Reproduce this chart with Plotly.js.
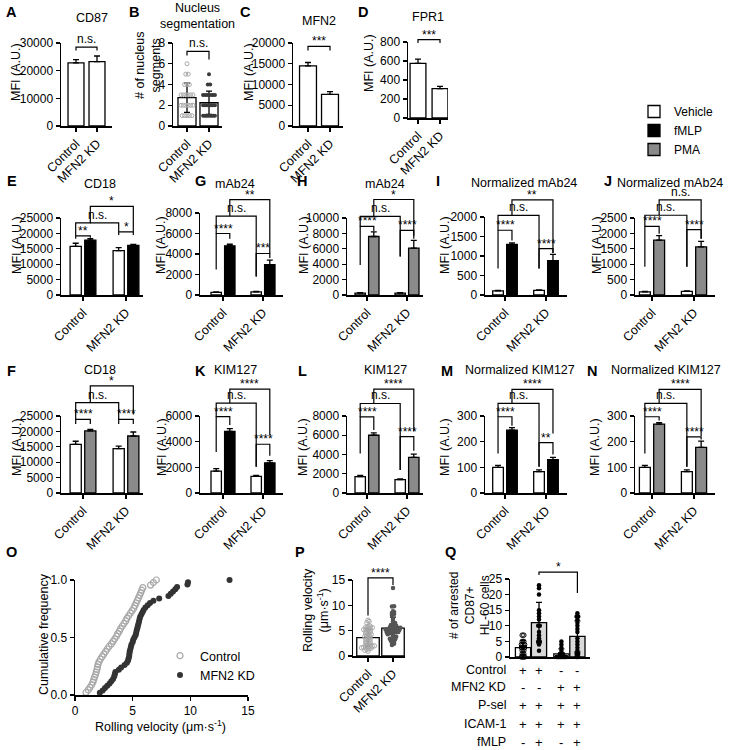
<!DOCTYPE html>
<html><head><meta charset="utf-8">
<script src="https://cdn.plot.ly/plotly-3.0.1.min.js"></script>
<style>body{margin:0;background:#fff}#chart{width:730px;height:750px}</style>
</head><body><div id="chart"></div>
<script>
const W = 730, H = 750;
const FONT = 'Liberation Sans, Arial, Helvetica, sans-serif';

// ================= DATA =================
const groupLabels = ['Control', 'MFN2 KD'];
const mfiTitle = 'MFI (A.U.)';

// A  CD87
const cd87Mean = [22800, 23300];
const cd87SD = [1200, 2000];
// C  MFN2
const mfn2Mean = [14500, 7600];
const mfn2SD = [800, 700];
// D  FPR1
const fpr1Mean = [575, 310];
const fpr1SD = [45, 22];
// B  nucleus segments per cell
const nucControl = [1,1,1,1,1,2,2,2,2,2,2,3,3,3,3,3,3,4,4,4,5,5,6];
const nucKD = [1,1,1,1,1,1,1,1,2,2,2,2,2,2,2,3,3,3,3,3,3,3,4,4,5];

// two-condition panels, values for [Control, MFN2 KD]
const cd18VehE = [15800, 14400], cd18VehESD = [1000, 1000];
const cd18Fmlp = [17800, 16100], cd18FmlpSD = [500, 350];
const mab24VehG = [250, 300], mab24VehGSD = [60, 50];
const mab24Fmlp = [4800, 2950], mab24FmlpSD = [150, 450];
const mab24VehH = [250, 250], mab24VehHSD = [50, 40];
const mab24Pma = [7600, 6100], mab24PmaSD = [600, 1000];
const nMab24VehI = [105, 120], nMab24VehISD = [15, 10];
const nMab24Fmlp = [1300, 880], nMab24FmlpSD = [35, 160];
const nMab24VehJ = [100, 120], nMab24VehJSD = [15, 12];
const nMab24Pma = [1780, 1560], nMab24PmaSD = [150, 180];
const cd18VehF = [15800, 14400], cd18VehFSD = [1000, 800];
const cd18Pma = [20200, 18500], cd18PmaSD = [450, 1300];
const kimVehK = [1700, 1300], kimVehKSD = [200, 80];
const kimFmlp = [4800, 2350], kimFmlpSD = [220, 180];
const kimVehL = [1700, 1380], kimVehLSD = [120, 80];
const kimPma = [6000, 3700], kimPmaSD = [250, 330];
const nKimVehM = [100, 83], nKimVehMSD = [8, 7];
const nKimFmlp = [245, 130], nKimFmlpSD = [10, 9];
const nKimVehN = [100, 83], nKimVehNSD = [8, 7];
const nKimPma = [268, 178], nKimPmaSD = [6, 24];

// O / P  rolling velocities (um/s)
const velControl = [0.95,1.15,1.3,1.45,1.55,1.62,1.7,1.78,1.85,1.9,1.95,2.0,2.08,2.2,2.35,2.5,2.65,2.8,2.95,3.15,
  3.3,3.45,3.6,3.7,3.85,3.95,4.1,4.25,4.4,4.5,4.65,4.8,4.95,5.1,5.2,5.3,5.4,5.5,5.6,5.7,5.78,5.88,6.55,6.8,7.05];
const velKD = [2.15,2.4,2.6,2.8,3.0,3.15,3.3,3.4,3.45,3.5,3.8,4.0,4.3,4.5,4.6,4.65,4.7,4.72,4.75,4.8,
  4.85,4.9,5.0,5.05,5.15,5.25,5.3,5.35,5.4,5.45,5.5,5.55,5.6,5.65,5.75,5.85,5.95,6.1,6.3,6.5,
  6.8,7.3,8.1,8.3,8.5,8.7,8.85,9.75,9.8,13.4];

// Q  arrested cells per condition
const arrested1 = [0,0,0,1,1,2,2,3,3,3,4,4,4,5,5,7,7];
const arrested2 = [23,22,20,15,14,13,12,10,10,8,7,6,5,5,4,2];
const arrested3 = [0,0,0,0,0,0,0,0,0,0,1,1,1,2,3,4,5];
const arrested4 = [14,13,13,12,11,10,9,8,6,5,4,3,2,1,1,0,0];
const qRowLabels = ['Control', 'MFN2 KD', 'P-sel', 'ICAM-1', 'fMLP'];
const qRows = [['+','+','-','-'], ['-','-','+','+'], ['+','+','+','+'], ['+','+','+','+'], ['-','+','-','+']];

// significance brackets: [from slot, to slot, line height, left leg end, right leg end, label]
const sigA = [[0,1,28500,27300,27300,'n.s.']];
const sigB = [[0,1,7.2,6.8,6.4,'n.s.']];
const sigC = [[0,1,19200,18200,18200,'***']];
const sigD = [[0,1,825,790,790,'***']];
const sigE = [[0,1,19200,18300,18600,'**'],[0,2,23400,19200,20500,'n.s.'],[2,3,20500,19500,19500,'*'],[1,3,28800,23300,20500,'*']];
const sigG = [[0,1,6000,2500,5500,'****'],[0,2,7700,6000,1800,'n.s.'],[1,3,9300,7700,4050,'**'],[2,3,4050,1800,3600,'***']];
const sigH = [[0,1,8900,3900,8300,'****'],[0,2,10200,8900,5000,'n.s.'],[1,3,12400,10200,7700,'*'],[2,3,8400,5000,7300,'****']];
const sigI = [[0,1,1660,680,1400,'****'],[0,2,2040,1660,680,'n.s.'],[1,3,2440,2040,1080,'**'],[2,3,1190,680,1080,'****']];
const sigJ = [[0,1,2230,915,1990,'****'],[0,2,2590,2230,915,'n.s.'],[1,3,3090,2590,1830,'n.s.'],[2,3,2120,915,1830,'****']];
const sigF = [[0,1,23900,22400,22400,'****'],[0,2,29350,23900,23900,'n.s.'],[1,3,34800,29350,25500,'*'],[2,3,23900,22400,22400,'****']];
const sigK = [[0,1,5950,3200,5300,'****'],[0,2,7000,5950,2050,'n.s.'],[1,3,8100,7000,4500,'****'],[2,3,3800,2050,2900,'****']];
const sigL = [[0,1,7900,4100,6550,'****'],[0,2,9300,7900,2400,'n.s.'],[1,3,10800,9300,6400,'****'],[2,3,5850,2400,4400,'****']];
const sigM = [[0,1,297,154,262,'****'],[0,2,349,297,102,'n.s.'],[1,3,404,349,232,'****'],[2,3,196,102,150,'**']];
const sigN = [[0,1,297,154,282,'****'],[0,2,349,297,102,'n.s.'],[1,3,404,349,222,'****'],[2,3,219,102,208,'****']];
const sigP = [[0,1,15.4,8.0,14.0,'****']];
const sigQ = [[1,3,27.2,26.3,20.5,'*']];

// ================= LAYOUT (pixel boxes) =================
const BOX = {
  A:{l:61,r:112,t:43,b:126,c0:76,c1:97},
  B:{l:173,r:222,t:43,b:126,c0:187,c1:209},
  C:{l:293,r:343,t:43,b:126,c0:308,c1:330},
  D:{l:408,r:448,t:42,b:118,c0:418,c1:440},
  E:{l:61,r:143,t:218,b:295,c0:83,c1:126},
  G:{l:200,r:283,t:213,b:295,c0:223,c1:263},
  H:{l:347,r:423,t:218,b:295,c0:367,c1:407},
  I:{l:485,r:567,t:217,b:295,c0:505,c1:546},
  J:{l:635,r:715,t:218,b:295,c0:652,c1:694},
  F:{l:61,r:143,t:416,b:493,c0:83,c1:126},
  K:{l:200,r:283,t:416,b:493,c0:223,c1:263},
  L:{l:347,r:423,t:416,b:493,c0:367,c1:407},
  M:{l:485,r:567,t:416,b:493,c0:505,c1:546},
  N:{l:635,r:715,t:416,b:493,c0:652,c1:694},
  O:{l:75,r:248,t:580,b:695},
  P:{l:353,r:405,t:580,b:656,c0:368,c1:393},
  Q:{l:510,r:590,t:579,b:657,c0:523,c1:539}
};
const pairSlots = [-0.17, 0.17, 0.83, 1.17];
const singleSlots = [0, 1];
const qPos = [0, 1, 2.4, 3.4];
const qRowY = [670, 687, 705, 724, 742];
const GRAY = '#8a8a8a';

// ================= BUILD =================
const traces = [], shapes = [], annotations = [];
const layout = {
  width: W, height: H, margin:{l:0,r:0,t:0,b:0},
  paper_bgcolor:'#fff', plot_bgcolor:'rgba(0,0,0,0)',
  barmode:'overlay', font:{family:FONT, size:12, color:'#000'},
  showlegend:true, shapes, annotations,
  legend:{x:634/W, y:1-97/H, xanchor:'left', yanchor:'top', font:{family:FONT,size:12,color:'#000'},
    bgcolor:'rgba(0,0,0,0)', itemwidth:30, tracegroupgap:0, traceorder:'normal'},
  legend2:{x:160/W, y:1-641/H, xanchor:'left', yanchor:'top', font:{family:FONT,size:12.5,color:'#000'},
    bgcolor:'rgba(0,0,0,0)', itemwidth:30, tracegroupgap:0, traceorder:'normal'}
};

const mean = a => a.reduce((s,v)=>s+v,0)/a.length;
const sdev = a => { const m = mean(a); return Math.sqrt(a.reduce((s,v)=>s+(v-m)*(v-m),0)/(a.length-1)); };
function swarm(vals, bin, maxHalf, step){
  const counts = {}, seen = {};
  vals.forEach(v => { const k = Math.round(v/bin); counts[k] = (counts[k]||0)+1; });
  return vals.map(v => {
    const k = Math.round(v/bin), n = counts[k];
    const i = (seen[k] = (seen[k]||0)+1) - 1;
    const s = n > 1 ? Math.min(step, 2*maxHalf/(n-1)) : 0;
    return (i - (n-1)/2) * s;
  });
}

let nAx = 0;
const axBase = () => ({showline:true, linecolor:'#000', linewidth:1.5, ticks:'outside', ticklen:4, tickwidth:1.3,
  tickcolor:'#000', showgrid:false, zeroline:false, fixedrange:true, tickfont:{size:12, family:FONT, color:'#000'}});
function makeAxes(box, xr, yr, xo, yo){
  nAx++;
  const s = nAx === 1 ? '' : String(nAx);
  layout['xaxis'+s] = Object.assign(axBase(), {domain:[box.l/W, box.r/W], range:xr, anchor:'y'+s}, xo);
  layout['yaxis'+s] = Object.assign(axBase(), {domain:[1-box.b/H, 1-box.t/H], range:yr, anchor:'x'+s}, yo);
  const map = (x, y) => [(box.l + (x-xr[0])/(xr[1]-xr[0])*(box.r-box.l))/W,
                         1 - (box.b - (y-yr[0])/(yr[1]-yr[0])*(box.b-box.t))/H];
  return {xa:'x'+s, ya:'y'+s, map};
}
const catRange = b => [(b.l-b.c0)/(b.c1-b.c0), (b.r-b.c0)/(b.c1-b.c0)];
const catX = () => ({tickmode:'array', tickvals:[0,1], ticktext:groupLabels, tickangle:-45, tickfont:{size:12.5, family:FONT, color:'#000'}});
const yLin = (dt, fmt) => ({tick0:0, dtick:dt, tickformat:fmt || 'd'});

function barTrace(ax, x, y, sd, color, offset, width, name, showlegend, both){
  return {type:'bar', x, y, xaxis:ax.xa, yaxis:ax.ya, offset, width, name: name || 'bar', showlegend:!!showlegend,
    marker:{color, line:{color:'#000', width:1.3}},
    error_y:{type:'data', array:sd, arrayminus: both ? sd : sd.map(()=>0), symmetric:false,
      color:'#000', thickness:1.3, width:3},
    hoverinfo:'skip'};
}
function drawSig(ax, slots, list){
  list.forEach(([a,b,y,ya,yb,label]) => {
    const [x1,p1] = ax.map(slots[a], ya), pt = ax.map(slots[a], y)[1], [x2,p2] = ax.map(slots[b], yb);
    shapes.push({type:'path', xref:'paper', yref:'paper', path:`M${x1},${p1}L${x1},${pt}L${x2},${pt}L${x2},${p2}`,
      line:{color:'#000', width:1.2}});
    annotations.push({xref:'paper', yref:'paper', x:(x1+x2)/2, y:pt, text:label, showarrow:false,
      xanchor:'center', yanchor:'bottom', yshift: label.indexOf('*') >= 0 ? -4 : -1,
      font:{family:FONT, size:12, color:'#000'}});
  });
}
function txt(xpx, ypx, t, o){
  annotations.push(Object.assign({xref:'paper', yref:'paper', x:xpx/W, y:1-ypx/H, text:t, showarrow:false,
    xanchor:'center', yanchor:'middle', font:{family:FONT, size:12.5, color:'#000'}}, o || {}));
}
const ytitle = (x, y, t, sz) => txt(x, y, t, {textangle:-90, font:{family:FONT, size:sz || 12.5, color:'#000'}});
const letter = (x, y, t) => txt(x, y, '<b>'+t+'</b>', {font:{family:FONT, size:14.5, color:'#000'}});

function singlePanel(box, m, s, ymax, dt, width, sig){
  const ax = makeAxes(box, catRange(box), [0, ymax], catX(), yLin(dt));
  traces.push(barTrace(ax, [0,1], m, s, '#ffffff', -width/2, width, '', false, false));
  drawSig(ax, singleSlots, sig);
  return ax;
}
function pairPanel(box, ymax, dt, veh, vehSD, trt, trtSD, color, trtName, sig, showVeh, showTrt){
  const ax = makeAxes(box, catRange(box), [0, ymax], catX(), yLin(dt));
  traces.push(barTrace(ax, [0,1], veh, vehSD, '#ffffff', -0.30, 0.26, 'Vehicle', showVeh, false));
  traces.push(barTrace(ax, [0,1], trt, trtSD, color, 0.04, 0.26, trtName, showTrt, false));
  drawSig(ax, pairSlots, sig);
  return ax;
}

// ---- Row 1 ----
singlePanel(BOX.A, cd87Mean, cd87SD, 30000, 10000, 0.76, sigA);
{ // B
  const ax = makeAxes(BOX.B, catRange(BOX.B), [0, 8], catX(), yLin(2));
  traces.push(barTrace(ax, [0,1], [mean(nucControl), mean(nucKD)], [sdev(nucControl), sdev(nucKD)], '#ffffff', -0.41, 0.82, '', false, true));
  const jc = swarm(nucControl, 1, 0.27, 0.11), jk = swarm(nucKD, 1, 0.27, 0.11);
  traces.push({type:'scatter', mode:'markers', name:'Control', x:nucControl.map((v,i)=>0+jc[i]), y:nucControl, xaxis:ax.xa, yaxis:ax.ya,
    showlegend:false, cliponaxis:false, hoverinfo:'skip', marker:{symbol:'circle-open', size:4, color:'#a8a8a8', line:{width:1}}});
  traces.push({type:'scatter', mode:'markers', name:'MFN2 KD', x:nucKD.map((v,i)=>1+jk[i]), y:nucKD, xaxis:ax.xa, yaxis:ax.ya,
    showlegend:false, cliponaxis:false, hoverinfo:'skip', marker:{symbol:'circle', size:4, color:'#3a3a3a'}});
  drawSig(ax, singleSlots, sigB);
}
singlePanel(BOX.C, mfn2Mean, mfn2SD, 20000, 5000, 0.77, sigC);
singlePanel(BOX.D, fpr1Mean, fpr1SD, 800, 200, 0.72, sigD);

// ---- Row 2 ----
pairPanel(BOX.E, 25000, 5000, cd18VehE, cd18VehESD, cd18Fmlp, cd18FmlpSD, '#000000', 'fMLP', sigE, true, true);
pairPanel(BOX.G, 8000, 2000, mab24VehG, mab24VehGSD, mab24Fmlp, mab24FmlpSD, '#000000', 'fMLP', sigG);
pairPanel(BOX.H, 10000, 2000, mab24VehH, mab24VehHSD, mab24Pma, mab24PmaSD, GRAY, 'PMA', sigH);
pairPanel(BOX.I, 2000, 500, nMab24VehI, nMab24VehISD, nMab24Fmlp, nMab24FmlpSD, '#000000', 'fMLP', sigI);
pairPanel(BOX.J, 2500, 500, nMab24VehJ, nMab24VehJSD, nMab24Pma, nMab24PmaSD, GRAY, 'PMA', sigJ);

// ---- Row 3 ----
pairPanel(BOX.F, 25000, 5000, cd18VehF, cd18VehFSD, cd18Pma, cd18PmaSD, GRAY, 'PMA', sigF, false, true);
pairPanel(BOX.K, 6000, 2000, kimVehK, kimVehKSD, kimFmlp, kimFmlpSD, '#000000', 'fMLP', sigK);
pairPanel(BOX.L, 8000, 2000, kimVehL, kimVehLSD, kimPma, kimPmaSD, GRAY, 'PMA', sigL);
pairPanel(BOX.M, 300, 100, nKimVehM, nKimVehMSD, nKimFmlp, nKimFmlpSD, '#000000', 'fMLP', sigM);
pairPanel(BOX.N, 300, 100, nKimVehN, nKimVehNSD, nKimPma, nKimPmaSD, GRAY, 'PMA', sigN);

// ---- O cumulative frequency ----
{
  const ax = makeAxes(BOX.O, [0, 15], [0, 1], {tick0:0, dtick:5}, yLin(0.5, '.1f'));
  const sc = velControl.slice().sort((a,b)=>a-b), sk = velKD.slice().sort((a,b)=>a-b);
  traces.push({type:'scatter', mode:'markers', name:'Control', legend:'legend2', x:sc, y:sc.map((_,i)=>(i+1)/sc.length),
    xaxis:ax.xa, yaxis:ax.ya, cliponaxis:false, hoverinfo:'skip',
    marker:{symbol:'circle-open', size:6, color:'#a8a8a8', line:{width:1.2}}});
  traces.push({type:'scatter', mode:'markers', name:'MFN2 KD', legend:'legend2', x:sk, y:sk.map((_,i)=>(i+1)/sk.length),
    xaxis:ax.xa, yaxis:ax.ya, cliponaxis:false, hoverinfo:'skip',
    marker:{symbol:'circle', size:6, color:'#333333'}});
}

// ---- P rolling velocity bars ----
{
  const ax = makeAxes(BOX.P, catRange(BOX.P), [0, 15], catX(), yLin(5));
  traces.push(barTrace(ax, [0,1], [mean(velControl), mean(velKD)], [sdev(velControl), sdev(velKD)], '#ffffff', -0.45, 0.9, '', false, true));
  const jc = swarm(velControl, 0.45, 0.34, 0.085), jk = swarm(velKD, 0.45, 0.34, 0.085);
  traces.push({type:'scatter', mode:'markers', name:'Control', x:velControl.map((v,i)=>0+jc[i]), y:velControl, xaxis:ax.xa, yaxis:ax.ya,
    showlegend:false, cliponaxis:false, hoverinfo:'skip', marker:{symbol:'circle-open', size:4.5, color:'#a8a8a8', line:{width:1}}});
  traces.push({type:'scatter', mode:'markers', name:'MFN2 KD', x:velKD.map((v,i)=>1+jk[i]), y:velKD, xaxis:ax.xa, yaxis:ax.ya,
    showlegend:false, cliponaxis:false, hoverinfo:'skip', marker:{symbol:'circle', size:4.5, color:'#555555'}});
  drawSig(ax, singleSlots, sigP);
}

// ---- Q arrested cells ----
{
  const ax = makeAxes(BOX.Q, catRange(BOX.Q), [0, 25], {showticklabels:false, ticks:''}, yLin(5));
  const sets = [arrested1, arrested2, arrested3, arrested4];
  const fills = ['#ffffff', '#d9d9d9', '#ffffff', '#d9d9d9'];
  sets.forEach((arr, k) => {
    traces.push(barTrace(ax, [qPos[k]], [mean(arr)], [sdev(arr)], fills[k], -0.475, 0.95, '', false, true));
  });
  sets.forEach((arr, k) => {
    const j = swarm(arr, 1, 0.3, 0.1);
    traces.push({type:'scatter', mode:'markers', name:'Q'+(k+1), x:arr.map((v,i)=>qPos[k]+j[i]), y:arr, xaxis:ax.xa, yaxis:ax.ya,
      showlegend:false, cliponaxis:false, hoverinfo:'skip',
      marker: k === 0 ? {symbol:'circle-open', size:4.5, color:'#000', line:{width:1}} : {symbol:'circle', size:4.5, color:'#000'}});
  });
  drawSig(ax, qPos, sigQ);
  qRowLabels.forEach((lab, r) => {
    txt(508, qRowY[r], lab, {xanchor:'right'});
    qRows[r].forEach((s, c) => {
      const fx = ax.map(qPos[c], 0)[0] * W;
      txt(fx, qRowY[r], s, {font:{family:FONT, size:13, color:'#000'}});
    });
  });
}

// ---- titles, labels ----
txt(92, 18, 'CD87'); txt(197, 16, 'Nucleus<br>segmentation'); txt(319, 21, 'MFN2'); txt(428, 17, 'FPR1');
txt(100, 184, 'CD18'); txt(235, 184, 'mAb24'); txt(385, 184, 'mAb24'); txt(524, 183, 'Normalized mAb24'); txt(670, 183, 'Normalized mAb24');
txt(100, 370, 'CD18'); txt(235, 370, 'KIM127'); txt(385, 370, 'KIM127'); txt(520, 370, 'Normalized KIM127'); txt(666, 370, 'Normalized KIM127');

letter(12, 12, 'A'); letter(134, 12, 'B'); letter(245, 12, 'C'); letter(363, 12, 'D');
letter(12, 181, 'E'); letter(200, 181, 'G'); letter(302, 181, 'H'); letter(438, 181, 'I'); letter(608, 181, 'J');
letter(12, 371, 'F'); letter(200, 371, 'K'); letter(302, 371, 'L'); letter(447, 371, 'M'); letter(592, 371, 'N');
letter(12, 552, 'O'); letter(300, 552, 'P'); letter(450, 552, 'Q');

ytitle(16, 72, mfiTitle); ytitle(148, 66, '# of nucleus<br>segments'); ytitle(249, 72, mfiTitle); ytitle(369, 63, mfiTitle);
ytitle(17, 245, mfiTitle); ytitle(161, 245, mfiTitle); ytitle(304, 245, mfiTitle); ytitle(445, 245, mfiTitle); ytitle(597, 245, mfiTitle);
ytitle(17, 447, mfiTitle); ytitle(162, 447, mfiTitle); ytitle(303, 447, mfiTitle); ytitle(445, 447, mfiTitle); ytitle(595, 447, mfiTitle);
ytitle(44, 634, 'Cumulative frequency');
txt(160, 726, 'Rolling velocity (μm·s<sup>-1</sup>)');
ytitle(316, 610, 'Rolling velocity<br>(μm·s<sup>-1</sup>)');
ytitle(469, 606, '# of arrested<br>CD87+<br>HL-60 cells', 12);

Plotly.newPlot('chart', traces, layout, {displayModeBar:false, staticPlot:true});
</script>
</body></html>
